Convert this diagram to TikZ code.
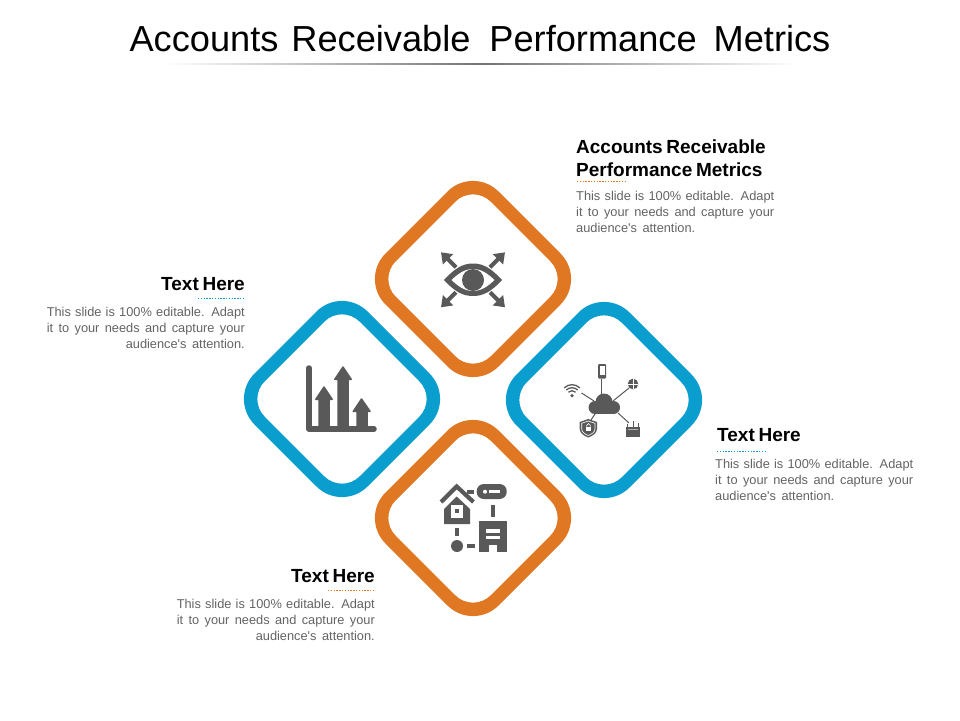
\documentclass[tikz,border=0pt]{standalone}
\usepackage{fontspec}
\setmainfont{Liberation Sans}
\newfontfamily\bodyfont{Liberation Sans}
\usetikzlibrary{arrows.meta}
\definecolor{ringorange}{HTML}{E07722}
\definecolor{ringblue}{HTML}{0A9ECF}
\definecolor{icongray}{HTML}{595959}
\definecolor{bodygray}{HTML}{636363}
\def\diamondring[#1](#2){\fill[#1,shift={(#2)},even odd rule,rounded corners=36pt] (-113,0) -- (0,-113) -- (113,0) -- (0,113) -- cycle [rounded corners=25pt] (-95,0) -- (0,-95) -- (95,0) -- (0,95) -- cycle;}
\def\fillline#1#2{\makebox[#1pt][s]{#2}}
\def\bodylines{\fillline{198}{This slide is 100\% editable. Adapt}\\\fillline{198}{it to your needs and capture your}\\\fillline{119}{audience's attention.}}
\tikzset{
	orangering/.style={fill=ringorange},
	bluering/.style={fill=ringblue},
	icon/.style={fill=icongray,draw=none},
	iconhole/.style={fill=white,draw=none},
	iconbar/.style={fill=icongray,draw=icongray,line width=1.5pt,line join=round},
	iconlink/.style={draw=icongray,line width=1pt},
	eyearrow/.style={draw=icongray,line width=4pt,-{Triangle[length=10pt,width=14pt]}},
	heading/.style={inner sep=0pt,font=\fontsize{19}{23}\selectfont\bfseries},
	bodytext/.style={inner sep=0pt,text=bodygray,font=\fontsize{12.8}{16}\selectfont\bodyfont},
	underdots/.style={line width=1pt,dash pattern=on 1.4pt off 1.4pt}
}
\begin{document}
\begin{tikzpicture}[x=1pt,y=-1pt]
	\useasboundingbox (0,0) rectangle (960,720);
	%%%%% TITLE %%%%%
	\node[inner sep=0pt,font=\fontsize{36.2}{40}\selectfont] (title) at (480,39) {Accounts\hspace{13pt}Receivable\hspace{19pt}Performance\hspace{17pt}Metrics};
	\shade[left color=white,right color=white,middle color=black!55] (165,63) rectangle (800,64);

	%%%%% RINGS %%%%%
	\diamondring[orangering](473,279)
	\diamondring[bluering](342,399)
	\diamondring[bluering](604,400)
	\diamondring[orangering](473,518)

	%%%%% EYE %%%%%
	\fill[icon] (444,280) .. controls (455,268) and (463,263.5) .. (473,263.5) .. controls (483,263.5) and (491,268) .. (502,280) .. controls (491,292) and (483,296) .. (473,296) .. controls (463,296) and (455,292) .. (444,280) -- cycle;
	\fill[iconhole] (451.5,280) .. controls (459,273) and (465,269) .. (473,269) .. controls (481,269) and (487,273) .. (494.5,280) .. controls (487,287) and (481,291) .. (473,291) .. controls (465,291) and (459,287) .. (451.5,280) -- cycle;
	\fill[icon] (473,280) circle (11);
	\draw[eyearrow] (456,267.3) -- (441,252.3);
	\draw[eyearrow] (490,267.3) -- (505,252.3);
	\draw[eyearrow] (456,292.3) -- (441,307.3);
	\draw[eyearrow] (490,292.3) -- (505,307.3);

	%%%%% BARS %%%%%
	\draw[icongray,line width=5.5pt,line cap=round,line join=round] (309,368) -- (309,429) -- (374,429);
	\draw[iconbar] (319,429) -- (319,399.3) -- (315.8,399.3) -- (324,387) -- (332.2,399.3) -- (329,399.3) -- (329,429) -- cycle;
	\draw[iconbar] (338,429) -- (338,379.3) -- (334.8,379.3) -- (343,367) -- (351.2,379.3) -- (348,379.3) -- (348,429) -- cycle;
	\draw[iconbar] (357,429) -- (357,411.3) -- (353.3,411.3) -- (361.5,399) -- (370,411.3) -- (367,411.3) -- (367,429) -- cycle;

	%%%%% CLOUD %%%%%
	\draw[iconlink] (601.5,379) -- (601.5,394);
	\draw[iconlink] (581.5,393) -- (594,401);
	\draw[iconlink] (629,388) -- (613,401);
	\draw[iconlink] (618,413) -- (629,423);
	\draw[iconlink] (595,414) -- (591,420);
	\fill[icon] (595,407.5) circle (6.5);
	\fill[icon] (604,402) circle (8.5);
	\fill[icon] (613.5,407.5) circle (6.5);
	\fill[icon] (595,404) rectangle (613.5,414);
	% phone
	\fill[icon,rounded corners=1pt] (598,364) rectangle (606,378.5);
	\fill[iconhole] (599.5,366) rectangle (604.5,375);
	% wifi
	\fill[icon] (572,395.7) circle (1.8);
	\draw[icongray,line width=1.3pt] (572,395.7) ++(-45:5) arc (-45:-135:5);
	\draw[icongray,line width=1.3pt] (572,395.7) ++(-45:8) arc (-45:-135:8);
	\draw[icongray,line width=1.3pt] (572,395.7) ++(-45:11) arc (-45:-135:11);
	% globe
	\fill[icon] (633,384) circle (5.3);
	\draw[white,line width=.7pt] (627.7,384) -- (638.3,384);
	\draw[white,line width=.7pt] (633,378.7) -- (633,389.3);
	% shield
	\fill[icon] (588.2,419) -- (597,422) -- (597,429) .. controls (597,433) and (592.5,436) .. (588.2,437.5) .. controls (584,436) and (579.7,433) .. (579.7,429) -- (579.7,422) -- cycle;
	\draw[white,line width=.6pt] (588.2,421) -- (595,423.3) -- (595,429) .. controls (595,432) and (591.5,434.3) .. (588.2,435.5) .. controls (585,434.3) and (581.7,432) .. (581.7,429) -- (581.7,423.3) -- cycle;
	\fill[iconhole] (585.7,426.5) rectangle (591.3,431);
	\draw[white,line width=.7pt] (586.8,426.5) -- (586.8,425.2) arc (180:360:1.7) -- (590.2,426.5);
	% router
	\fill[icon] (626,427) rectangle (640,437);
	\fill[gray!60] (628,429) rectangle (638,430);
	\draw[iconlink] (627,424) -- (627,428);
	\draw[iconlink] (633,420.5) -- (633,428);
	\draw[iconlink] (638.5,423) -- (638.5,428);

	%%%%% NETWORK %%%%%
	\draw[icongray,line width=4.2pt] (441,502) -- (456.7,486.5) -- (473.5,502);
	\fill[icon] (444,524) -- (444,509) -- (456.7,496.5) -- (470,509) -- (470,524) -- cycle;
	\fill[iconhole] (450.7,505) rectangle (463.3,517.7);
	\fill[icon] (455,509) rectangle (459,513.3);
	\fill[icon] (466.7,490) rectangle (474,493.5);
	\fill[icon,rounded corners=7pt] (476.7,484) rectangle (506.7,499);
	\fill[iconhole] (485,491.7) circle (2);
	\fill[iconhole] (488.5,490) rectangle (500,493.3);
	\fill[icon] (491,505) rectangle (495,516.7);
	\fill[icon] (479.3,521) rectangle (506.7,551.7);
	\fill[iconhole] (486,529.3) rectangle (500,532.7);
	\fill[iconhole] (486,536) rectangle (500,539.3);
	\fill[iconhole] (489.3,545) rectangle (496.7,551.7);
	\fill[icon] (455,528.3) rectangle (459,536);
	\fill[icon] (457,546) circle (6);
	\fill[icon] (467.3,544) rectangle (475,547.7);

	%%%%% TEXTS %%%%%
	\node[heading,anchor=north west,align=left] (headmetrics) at (576,139.5) {Accounts\hspace{3.7pt}Receivable\\Performance\hspace{3.7pt}Metrics};
	\draw[underdots,draw=ringorange] (577,181.5) -- (627,181.5);
	\node[bodytext,anchor=north west,align=left] (bodymetrics) at (576,191.5) {\bodylines};

	\node[heading,anchor=north east,align=right] (headleft) at (245,277) {Text\hspace{3.7pt}Here};
	\draw[underdots,draw=ringblue] (198,298.5) -- (245,298.5);
	\node[bodytext,anchor=north east,align=right] (bodyleft) at (245,307) {\bodylines};

	\node[heading,anchor=north west,align=left] (headright) at (717,428) {Text\hspace{3.7pt}Here};
	\draw[underdots,draw=ringblue] (717,451.5) -- (765,451.5);
	\node[bodytext,anchor=north west,align=left] (bodyright) at (715,459) {\bodylines};

	\node[heading,anchor=north east,align=right] (headbottom) at (375,569) {Text\hspace{3.7pt}Here};
	\draw[underdots,draw=ringorange] (328,590.5) -- (375,590.5);
	\node[bodytext,anchor=north east,align=right] (bodybottom) at (375,599) {\bodylines};
\end{tikzpicture}
\end{document}
